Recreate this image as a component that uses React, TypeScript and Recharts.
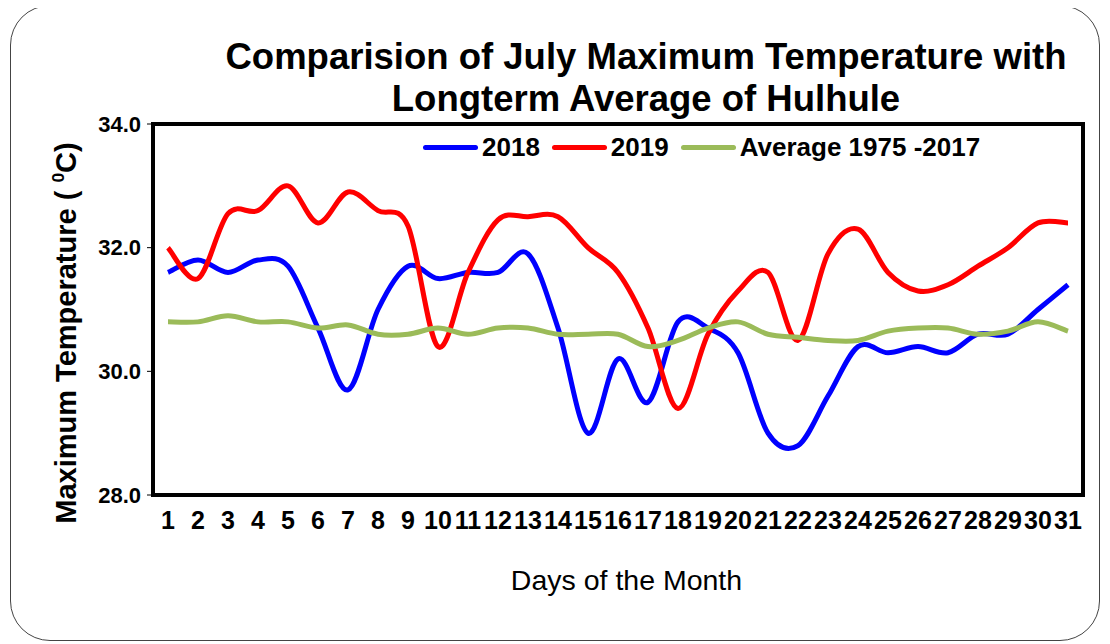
import { LineChart, Line, XAxis, YAxis, Legend, ReferenceArea } from 'recharts';

// July daily maximum temperature at Hulhule (deg C)
const days = [1, 2, 3, 4, 5, 6, 7, 8, 9, 10, 11, 12, 13, 14, 15, 16, 17, 18, 19, 20, 21, 22, 23, 24, 25, 26, 27, 28, 29, 30, 31];
const temp2018 = [31.6, 31.8, 31.6, 31.8, 31.7, 30.7, 29.7, 31.0, 31.7, 31.5, 31.6, 31.6, 31.9, 30.7, 29.0, 30.2, 29.5, 30.8, 30.7, 30.3, 29.0, 28.8, 29.6, 30.4, 30.3, 30.4, 30.3, 30.6, 30.6, 31.0, 31.4];
const temp2019 = [32.0, 31.5, 32.55, 32.6, 33.0, 32.4, 32.9, 32.6, 32.35, 30.4, 31.6, 32.45, 32.5, 32.5, 32.0, 31.6, 30.7, 29.4, 30.6, 31.3, 31.6, 30.5, 31.9, 32.3, 31.6, 31.3, 31.4, 31.7, 32.0, 32.4, 32.4];
const longtermAvg = [30.8, 30.8, 30.9, 30.8, 30.8, 30.7, 30.75, 30.6, 30.6, 30.7, 30.6, 30.7, 30.7, 30.6, 30.6, 30.6, 30.4, 30.5, 30.7, 30.8, 30.6, 30.55, 30.5, 30.5, 30.65, 30.7, 30.7, 30.6, 30.65, 30.8, 30.65];
const yTicks = [28, 30, 32, 34];

// tick marks sit between the day labels
const dayEdges = [0.5, ...days.map((d) => d + 0.5)];

const data = days.map((day, i) => ({
  day,
  y2018: temp2018[i],
  y2019: temp2019[i],
  avg: longtermAvg[i],
}));

const FONT = '"Liberation Sans", Arial, sans-serif';
const LEGEND_H = 30;

// Excel-like smoothed line (Catmull-Rom through every point)
const smooth = (context: any) => {
  let pts: number[][] = [];
  return {
    areaStart() {},
    areaEnd() {},
    lineStart() {
      pts = [];
    },
    point(x: number, y: number) {
      pts.push([+x, +y]);
    },
    lineEnd() {
      if (!pts.length) return;
      context.moveTo(pts[0][0], pts[0][1]);
      for (let i = 0; i < pts.length - 1; i++) {
        const p0 = pts[i - 1] || pts[i];
        const p1 = pts[i];
        const p2 = pts[i + 1];
        const p3 = pts[i + 2] || p2;
        context.bezierCurveTo(
          p1[0] + (p2[0] - p0[0]) / 6,
          p1[1] + (p2[1] - p0[1]) / 6,
          p2[0] - (p3[0] - p1[0]) / 6,
          p2[1] - (p3[1] - p1[1]) / 6,
          p2[0],
          p2[1]
        );
      }
    },
  };
};

const LegendContent = (props: any) => {
  const { payload } = props;
  return (
    <div style={{ display: 'flex', alignItems: 'center', height: LEGEND_H, fontFamily: FONT, fontWeight: 'bold', fontSize: 26, color: '#000', lineHeight: LEGEND_H + 'px' }}>
      {(payload || []).map((item: any) => (
        <div key={item.value} style={{ display: 'flex', alignItems: 'center', marginRight: 12 }}>
          <span style={{ display: 'inline-block', width: 55, height: 5, borderRadius: 3, background: item.color, marginRight: 4 }} />
          <span>{item.value}</span>
        </div>
      ))}
    </div>
  );
};

export default function App() {
  return (
    <div style={{ position: 'relative', width: 1110, height: 644, margin: '-8px 0 0 -8px', background: '#fff', fontFamily: FONT, overflow: 'hidden' }}>
      <div
        style={{
          position: 'absolute',
          left: 10,
          top: 5,
          width: 1090,
          height: 636,
          border: '1.5px solid #444',
          borderRadius: 40,
          boxSizing: 'border-box',
        }}
      />
      <div
        style={{
          position: 'absolute',
          left: 146,
          top: 36,
          width: 1000,
          textAlign: 'center',
          fontSize: 36.5,
          fontWeight: 'bold',
          lineHeight: '42px',
          color: '#000',
        }}
      >
        Comparision of July Maximum Temperature with
        <br />
        Longterm Average of Hulhule
      </div>
      <div
        style={{
          position: 'absolute',
          left: 58 - 220,
          top: 333 - 20,
          width: 440,
          height: 40,
          lineHeight: '40px',
          textAlign: 'center',
          fontSize: 29,
          fontWeight: 'bold',
          transform: 'rotate(-90deg)',
          transformOrigin: 'center',
          whiteSpace: 'nowrap',
          color: '#000',
        }}
      >
        Maximum Temperature ( <sup style={{ fontSize: '0.6em', verticalAlign: '0.7em' }}>0</sup>C)
      </div>
      <div
        style={{
          position: 'absolute',
          left: 0,
          top: 564,
          width: 1110,
          paddingLeft: 143,
          boxSizing: 'border-box',
          textAlign: 'center',
          fontSize: 28.5,
          color: '#000',
        }}
      >
        Days of the Month
      </div>
      <div style={{ position: 'absolute', left: 0, top: 0 }}>
        {/* top legend adds its height to the top offset, so the margin is reduced by it */}
        <LineChart width={1110} height={644} data={data} margin={{ top: 124 - LEGEND_H, right: 27, bottom: 101, left: 73 }}>
          <XAxis
            xAxisId="marks"
            type="number"
            dataKey="day"
            domain={[0.5, 31.5]}
            allowDataOverflow
            ticks={dayEdges}
            interval={0}
            tick={false}
            tickSize={7}
            tickLine={{ stroke: '#000', strokeWidth: 1 }}
            axisLine={false}
            height={8}
          />
          <XAxis
            xAxisId="days"
            type="number"
            dataKey="day"
            domain={[0.5, 31.5]}
            allowDataOverflow
            ticks={days}
            interval={0}
            tickSize={0}
            tickMargin={16}
            tickLine={false}
            axisLine={false}
            height={40}
            tick={{ fill: '#000', fontSize: 25, fontWeight: 'bold', fontFamily: FONT }}
          />
          <YAxis
            type="number"
            domain={[28, 34]}
            ticks={yTicks}
            interval={0}
            width={80}
            axisLine={false}
            tickSize={6}
            tickMargin={6}
            tickLine={{ stroke: '#000', strokeWidth: 1 }}
            tickFormatter={(v: number) => v.toFixed(1)}
            tick={{ fill: '#000', fontSize: 22, fontWeight: 'bold', fontFamily: FONT }}
          />
          <Legend
            verticalAlign="top"
            height={LEGEND_H}
            content={<LegendContent />}
            wrapperStyle={{ position: 'absolute', top: 132, left: 423, width: 'auto', height: LEGEND_H }}
          />
          <Line xAxisId="days" type={smooth as any} dataKey="y2018" name="2018" stroke="#0000FF" strokeWidth={5} dot={false} activeDot={false} isAnimationActive={false} />
          <Line xAxisId="days" type={smooth as any} dataKey="y2019" name="2019" stroke="#FF0000" strokeWidth={5} dot={false} activeDot={false} isAnimationActive={false} />
          <Line xAxisId="days" type={smooth as any} dataKey="avg" name="Average 1975 -2017" stroke="#9BBB59" strokeWidth={5} dot={false} activeDot={false} isAnimationActive={false} />
          <ReferenceArea xAxisId="days" x1={0.5} x2={31.5} y1={28} y2={34} fill="none" fillOpacity={0} stroke="#000" strokeWidth={4} ifOverflow="visible" />
        </LineChart>
      </div>
    </div>
  );
}
